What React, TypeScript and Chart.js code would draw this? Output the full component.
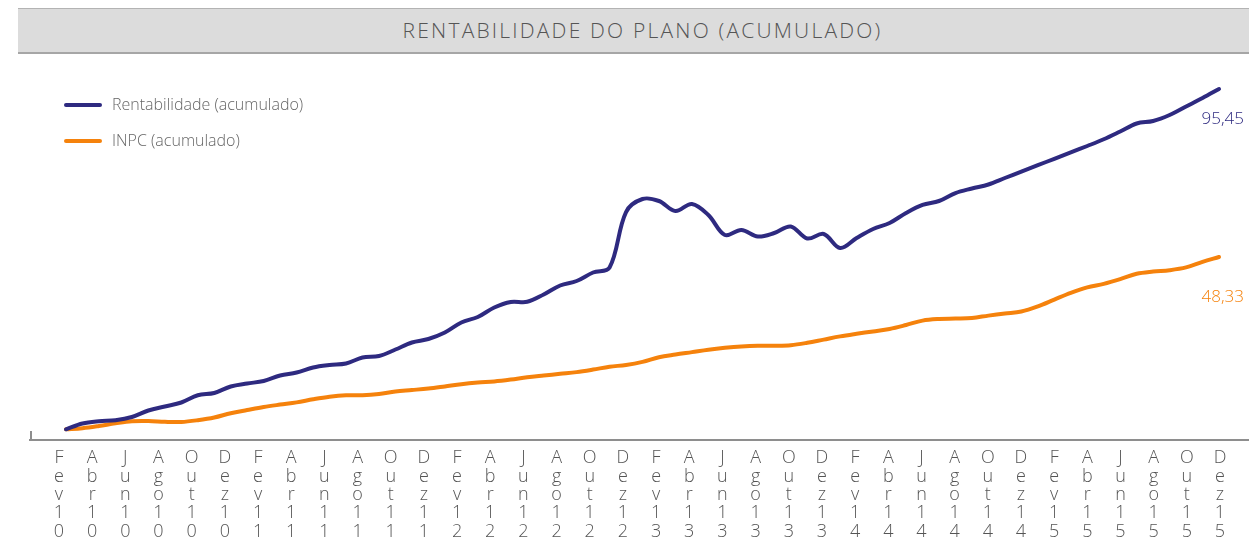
import React, { useEffect, useRef } from "react";
import { Chart, registerables } from "chart.js";

Chart.register(...registerables);

// Monthly categories, Fev/2010 .. Dez/2015
const months = [
  "Fev10", "Mar10", "Abr10", "Mai10", "Jun10", "Jul10", "Ago10", "Set10", "Out10", "Nov10", "Dez10",
  "Jan11", "Fev11", "Mar11", "Abr11", "Mai11", "Jun11", "Jul11", "Ago11", "Set11", "Out11", "Nov11", "Dez11",
  "Jan12", "Fev12", "Mar12", "Abr12", "Mai12", "Jun12", "Jul12", "Ago12", "Set12", "Out12", "Nov12", "Dez12",
  "Jan13", "Fev13", "Mar13", "Abr13", "Mai13", "Jun13", "Jul13", "Ago13", "Set13", "Out13", "Nov13", "Dez13",
  "Jan14", "Fev14", "Mar14", "Abr14", "Mai14", "Jun14", "Jul14", "Ago14", "Set14", "Out14", "Nov14", "Dez14",
  "Jan15", "Fev15", "Mar15", "Abr15", "Mai15", "Jun15", "Jul15", "Ago15", "Set15", "Out15", "Nov15", "Dez15",
];

// Tick labels: every second month (Fev, Abr, Jun, Ago, Out, Dez)
const tickLabels = months.filter((_, i) => i % 2 === 0);

const rentabilidade = [
  0, 1.63, 2.27, 2.55, 3.45, 5.27, 6.4, 7.52, 9.54, 10.18,
  12.01, 12.85, 13.55, 15.09, 15.93, 17.34, 18.04, 18.46, 20.14, 20.56,
  22.38, 24.35, 25.33, 27.15, 29.96, 31.5, 34.17, 35.71, 35.76, 37.81,
  40.34, 41.6, 43.98, 45.39, 60.95, 64.6, 64.04, 61.23, 63.2, 60.11,
  54.5, 55.9, 54.08, 55.06, 56.89, 53.52, 54.78, 50.86, 53.66, 56.19,
  57.87, 60.67, 62.92, 64.04, 66.28, 67.55, 68.67, 70.49, 72.29, 74.08,
  75.88, 77.67, 79.47, 81.35, 83.53, 85.78, 86.48, 88.16, 90.55, 92.93,
  95.45,
];

const inpc = [
  0, 0.31, 0.93, 1.68, 2.27, 2.33, 2.1, 2.05, 2.55, 3.31,
  4.52, 5.41, 6.26, 6.93, 7.55, 8.42, 9.14, 9.54, 9.54, 9.9,
  10.63, 11.02, 11.44, 12.03, 12.65, 13.1, 13.41, 13.94, 14.59, 15.09,
  15.57, 16.04, 16.75, 17.56, 18.04, 18.91, 20.22, 20.98, 21.65, 22.33,
  22.86, 23.25, 23.45, 23.45, 23.59, 24.26, 25.16, 26.06, 26.79, 27.46,
  28.16, 29.26, 30.49, 30.94, 31.05, 31.22, 31.89, 32.48, 33.04, 34.47,
  36.38, 38.26, 39.8, 40.81, 42.13, 43.62, 44.24, 44.63, 45.41, 46.96,
  48.33,
];

const seriesNames = ["Rentabilidade (acumulado)", "INPC (acumulado)"];
const chartTitle = "RENTABILIDADE DO PLANO (ACUMULADO)";

const PURPLE = "#2e2a80";
const ORANGE = "#f5820c";
const FONT = "'Open Sans', 'Lato', sans-serif";
const TEXT_GRAY = "#666666";

const fmt = (v: number) => v.toFixed(2).replace(".", ",");

const decorPlugin = {
  id: "decor",
  afterDatasetsDraw(chart: any) {
    const { ctx, chartArea } = chart;
    ctx.save();
    // short vertical tick at the left end of the axis
    ctx.strokeStyle = "#8e8e8e";
    ctx.lineWidth = 2;
    ctx.beginPath();
    ctx.moveTo(chartArea.left + 1, chartArea.bottom - 9);
    ctx.lineTo(chartArea.left + 1, chartArea.bottom + 1);
    ctx.stroke();

    chart.data.datasets.forEach((ds: any, i: number) => {
      // legend
      const ly = 105 + i * 36;
      ctx.strokeStyle = ds.borderColor;
      ctx.lineWidth = 4;
      ctx.lineCap = "round";
      ctx.beginPath();
      ctx.moveTo(66, ly);
      ctx.lineTo(100, ly);
      ctx.stroke();
      ctx.fillStyle = TEXT_GRAY;
      ctx.font = `300 16px ${FONT}`;
      ctx.textBaseline = "middle";
      ctx.textAlign = "left";
      ctx.fillText(ds.label, 112, ly);

      // end value label
      const meta = chart.getDatasetMeta(i);
      const pt = meta.data[meta.data.length - 1];
      const v = ds.data[ds.data.length - 1].y;
      ctx.fillStyle = ds.borderColor;
      ctx.font = `300 17px ${FONT}`;
      ctx.textAlign = "right";
      ctx.fillText(fmt(v), 1244, pt.y + (i === 0 ? 30 : 40));
    });
    ctx.restore();
  },
};

export default function App() {
  const canvasRef = useRef<HTMLCanvasElement | null>(null);

  useEffect(() => {
    const canvas = canvasRef.current;
    if (!canvas) return;
    const chart = new Chart(canvas, {
      type: "line",
      data: {
        datasets: [
          {
            label: seriesNames[0],
            data: rentabilidade.map((v, i) => ({ x: i, y: v })),
            borderColor: PURPLE,
            backgroundColor: PURPLE,
            borderWidth: 4,
            pointRadius: 0,
            tension: 0.35,
            borderCapStyle: "round",
            borderJoinStyle: "round",
            xAxisID: "x",
            yAxisID: "y",
          },
          {
            label: seriesNames[1],
            data: inpc.map((v, i) => ({ x: i, y: v })),
            borderColor: ORANGE,
            backgroundColor: ORANGE,
            borderWidth: 4,
            pointRadius: 0,
            tension: 0.35,
            borderCapStyle: "round",
            borderJoinStyle: "round",
            xAxisID: "x",
            yAxisID: "y",
          },
        ],
      },
      options: {
        animation: false,
        responsive: false,
        layout: { padding: { left: 30, right: 0, top: 60, bottom: 0 } },
        plugins: {
          legend: { display: false },
          tooltip: { enabled: false },
          title: { display: false },
        },
        scales: {
          x: {
            type: "linear",
            display: false,
            min: -2.186,
            max: 71.82,
          },
          xl: {
            type: "linear",
            position: "bottom",
            min: -1.748,
            max: 71.748,
            afterBuildTicks: (axis: any) => {
              axis.ticks = tickLabels.map((_, k) => ({ value: k * 2 }));
            },
            afterFit: (axis: any) => {
              axis.height = 101;
            },
            grid: { display: false, drawTicks: false },
            border: { display: true, color: "#8e8e8e", width: 2 },
            ticks: {
              autoSkip: false,
              maxRotation: 0,
              minRotation: 0,
              padding: 9,
              color: "#555555",
              font: { family: FONT, size: 18, weight: "300", lineHeight: 1.02 },
              callback: (value: any) => {
                const label = months[Math.round(Number(value))] || "";
                return label.split("");
              },
            },
          },
          y: {
            type: "linear",
            display: false,
            min: -3,
            max: 103.59,
          },
        },
      },
      plugins: [decorPlugin],
    });
    return () => chart.destroy();
  }, []);

  return (
    <div
      style={{
        position: "absolute",
        left: 0,
        top: 0,
        width: 1249,
        height: 541,
        overflow: "hidden",
        background: "#ffffff",
      }}
    >
      <canvas
        ref={canvasRef}
        width={1249}
        height={541}
        style={{ position: "absolute", left: 0, top: 0, width: 1249, height: 541 }}
      />
      <div
        style={{
          position: "absolute",
          left: 18,
          top: 8,
          width: 1231,
          height: 46,
          boxSizing: "border-box",
          background: "#dcdcdc",
          borderTop: "1px solid #b3b3b3",
          borderBottom: "2px solid #a6a6a6",
          color: "#555555",
          fontFamily: FONT,
          fontWeight: 300,
          fontSize: 21,
          letterSpacing: "2.2px",
          lineHeight: "43px",
          textAlign: "center",
          paddingLeft: 18,
          whiteSpace: "nowrap",
        }}
      >
        {chartTitle}
      </div>
    </div>
  );
}
